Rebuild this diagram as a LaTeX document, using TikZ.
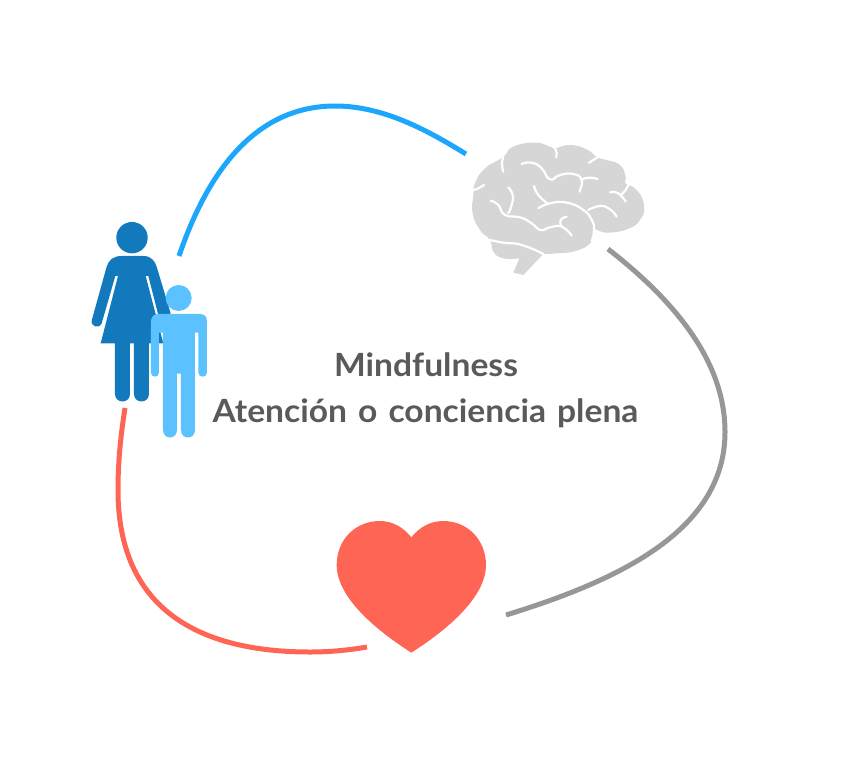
\documentclass[tikz,border=0pt]{standalone}
\usepackage{fontspec}
\setmainfont{Lato}
\definecolor{arcblue}{HTML}{1CA7FC}
\definecolor{arcgray}{HTML}{979797}
\definecolor{arcred}{HTML}{FF6555}
\definecolor{womanblue}{HTML}{1279BD}
\definecolor{boyblue}{HTML}{5CC1FF}
\definecolor{braingray}{HTML}{D6D6D6}
\definecolor{textgray}{HTML}{5A5A5C}
\tikzset{
  arc/.style={line width=5pt,line cap=butt},
  crease/.style={draw=white,line width=2.2pt,line cap=round,line join=round,smooth,tension=0.9},
  label/.style={text=textgray,font=\bfseries\fontsize{32}{36}\selectfont,inner sep=0pt,anchor=base,xscale=1.05},
}
\begin{document}
\begin{tikzpicture}[x=1pt,y=-1pt]
\useasboundingbox (0,0) rectangle (842,760);
% brain
\begin{scope}[shift={(460,130)},x=0.3333pt,y=-0.3333pt]
\fill[braingray] plot[smooth,tension=0.85] coordinates {(178,385)(130,385)(100,365)(90,330)(60,300)(38,250)(40,195)(45,160)(75,115)(128,82)(160,50)(225,38)(270,50)(285,55)(330,45)(380,58)(412,82)(440,90)(480,105)(497,140)(497,160)(530,180)(552,225)(540,270)(500,298)(440,308)(402,300)(395,335)(350,362)(290,370)(250,372)} -- (190,435) -- (160,428) -- cycle;
\draw[crease] plot[smooth,tension=0.9] coordinates {(130,82)(126,100)(130,125)};
\draw[crease] plot[smooth,tension=0.9] coordinates {(285,55)(290,70)(288,82)};
\draw[crease] plot[smooth,tension=0.9] coordinates {(412,82)(400,90)(387,98)};
\draw[crease] plot[smooth,tension=0.9] coordinates {(185,102)(215,98)(245,115)(270,148)(300,135)(340,132)(365,150)(358,185)};
\draw[crease] plot[smooth,tension=0.9] coordinates {(365,150)(385,143)(413,147)};
\draw[crease] plot[smooth,tension=0.9] coordinates {(450,187)(475,190)(497,215)};
\draw[crease] plot[smooth,tension=0.9] coordinates {(505,162)(497,180)(482,195)};
\draw[crease] plot[smooth,tension=0.9] coordinates {(222,168)(235,195)(262,220)};
\draw[crease] plot[smooth,tension=0.9] coordinates {(235,235)(270,220)(320,218)(370,240)(395,270)(402,300)(395,335)};
\draw[crease] plot[smooth,tension=0.9] coordinates {(385,240)(420,228)(450,238)(470,260)};
\draw[crease] plot[smooth,tension=0.9] coordinates {(145,172)(158,195)(155,225)(145,250)};
\draw[crease] plot[smooth,tension=0.9] coordinates {(92,212)(115,225)(135,255)(180,262)(215,280)(242,300)(270,292)(305,290)(335,317)};
\draw[crease] plot[smooth,tension=0.9] coordinates {(305,290)(302,270)(320,260)};
\draw[crease] plot[smooth,tension=0.9] coordinates {(40,180)(55,175)(72,165)};
\draw[crease] plot[smooth,tension=0.9] coordinates {(90,330)(130,338)(185,345)(250,372)};
\end{scope}
% woman
\begin{scope}[shift={(80,210)},x=0.3333pt,y=-0.3333pt]
\fill[womanblue] (156,83) circle[radius=15.7pt];
\fill[womanblue] (125,138) -- (190,138) .. controls (215,138) and (225,155) .. (230,170) -- (272,310) -- (240,335) -- (205,198) -- (197,198) -- (250,400) -- (207,400) -- (207,552) .. controls (207,582) and (162,582) .. (162,552) -- (162,400) -- (150,400) -- (150,552) .. controls (150,582) and (105,582) .. (105,552) -- (105,400) -- (62,400) -- (114,198) -- (106,198) -- (65,340) .. controls (58,358) and (28,350) .. (36,328) -- (80,170) .. controls (86,150) and (100,138) .. (125,138) -- cycle;
\end{scope}
% boy
\begin{scope}[shift={(80,210)},x=0.3333pt,y=-0.3333pt]
\fill[boyblue] (296,264) circle[radius=13pt];
\fill[boyblue] (235,312) -- (360,312) .. controls (375,312) and (381,322) .. (381,335) -- (381,488) .. controls (381,504) and (355,504) .. (355,488) -- (355,368) -- (345,368) -- (345,660) .. controls (345,690) and (303,690) .. (303,660) -- (303,491) -- (291,491) -- (291,660) .. controls (291,690) and (249,690) .. (249,660) -- (249,368) -- (237,368) -- (237,488) .. controls (237,504) and (213,504) .. (213,488) -- (213,335) .. controls (213,322) and (220,312) .. (235,312) -- cycle;
\end{scope}
% heart
\begin{scope}[shift={(320,500)},x=0.3333pt,y=-0.3333pt]
\fill[arcred] (274,112) .. controls (250,82) and (218,63) .. (180,63) .. controls (105,63) and (50,120) .. (50,195) .. controls (50,295) and (175,395) .. (274,458) .. controls (373,395) and (498,295) .. (498,195) .. controls (498,120) and (443,63) .. (370,63) .. controls (330,63) and (298,82) .. (274,112) -- cycle;
\end{scope}
% connectors
\coordinate (personTop) at (179,256);
\coordinate (brainLeft) at (466,154);
\coordinate (brainRight) at (608,249);
\coordinate (heartRight) at (506,615);
\coordinate (heartLeft) at (367,647);
\coordinate (personBottom) at (125,408);
\draw[arc,arcblue] (personTop) .. controls (215,150) and (270,106) .. (335,106) .. controls (385,106) and (430,132) .. (brainLeft);
\draw[arc,arcgray] (brainRight) .. controls (680,305) and (725,365) .. (725,432) .. controls (725,530) and (620,580) .. (heartRight);
\draw[arc,arcred] (personBottom) .. controls (120,440) and (118,465) .. (118,490) .. controls (118,610) and (200,652) .. (310,652) .. controls (330,652) and (350,650) .. (heartLeft);
% text
\node[label] (title) at (426,376.7) {Mindfulness};
\node[label] (subtitle) at (425.5,422.5) {\spaceskip=10.5pt Atención o conciencia plena};
\end{tikzpicture}
\end{document}
